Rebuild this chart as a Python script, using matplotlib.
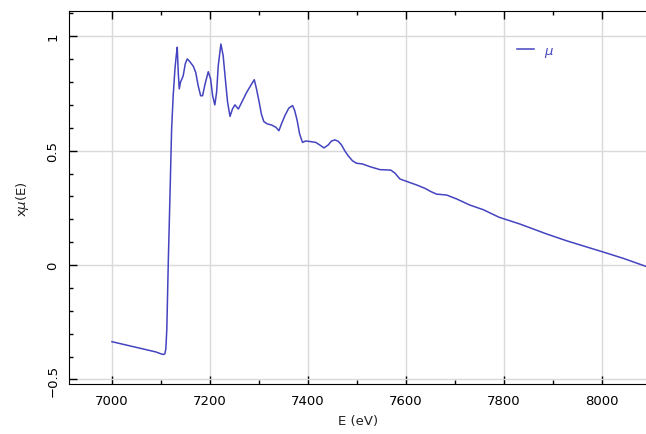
from matplotlib import pyplot as plt
from matplotlib.ticker import MultipleLocator, FuncFormatter

# energy (eV) and normalised absorption
energy = [7000, 7050, 7090, 7100, 7105, 7108, 7110, 7112, 7115, 7118.4,
          7121.8, 7125, 7128.6, 7131, 7133.3, 7135.4, 7137.4, 7140, 7142.8,
          7145.5, 7149.6, 7153.7, 7159, 7166, 7171, 7176, 7181, 7185, 7190,
          7196.6, 7201.4, 7205.5, 7210, 7213.6, 7217, 7222.4, 7227, 7232,
          7236, 7241, 7246, 7251, 7258, 7266.7, 7275, 7283, 7290.5, 7295,
          7300.7, 7305, 7310, 7317, 7326, 7334.7, 7340.8, 7346, 7353, 7361,
          7368.7, 7373, 7378, 7383, 7389, 7395, 7400.7, 7416, 7424, 7432.7,
          7441.5, 7448, 7455, 7461.8, 7468.5, 7475, 7482, 7490.8, 7499, 7511,
          7526.5, 7547, 7569, 7577.5, 7587.8, 7601, 7621.8, 7639, 7652,
          7662.6, 7683, 7703.4, 7730.6, 7757.8, 7790, 7833, 7887, 7928,
          8001, 8044, 8090]
mu = [-0.335, -0.36, -0.38, -0.388, -0.391, -0.388, -0.367, -0.28, 0.013,
      0.30, 0.595, 0.74, 0.857, 0.91, 0.952, 0.84, 0.77, 0.80, 0.813,
      0.828, 0.879, 0.901, 0.889, 0.869, 0.842, 0.784, 0.74, 0.74, 0.791,
      0.845, 0.813, 0.74, 0.70, 0.755, 0.872, 0.966, 0.915, 0.80,
      0.712, 0.65, 0.682, 0.70, 0.682, 0.719, 0.755, 0.784, 0.81, 0.77,
      0.71, 0.66, 0.627, 0.617, 0.612, 0.602, 0.587, 0.617, 0.653, 0.686,
      0.697, 0.675, 0.632, 0.573, 0.536, 0.542, 0.541, 0.536, 0.525, 0.512,
      0.525, 0.542, 0.547, 0.541, 0.525, 0.500, 0.478, 0.456, 0.445, 0.442,
      0.430, 0.417, 0.415, 0.402, 0.376, 0.366, 0.35, 0.335, 0.32,
      0.31, 0.306, 0.289, 0.262, 0.242, 0.209, 0.179, 0.136, 0.106,
      0.058, 0.029, -0.006]

plt.rcParams['font.family'] = 'DejaVu Sans'
plt.rcParams['font.size'] = 9.5

fig = plt.figure(figsize=(6.46, 4.35), dpi=100)
ax = fig.add_axes([0.1073, 0.1149, 0.8927, 0.8568])

ax.plot(energy, mu, color='#4444c0', lw=1.1, label=r'$\mu$')

ax.set_xlim(6913, 8090)
ax.set_ylim(-0.52, 1.109)

ax.xaxis.set_major_locator(MultipleLocator(200))
ax.xaxis.set_minor_locator(MultipleLocator(100))
ax.yaxis.set_major_locator(MultipleLocator(0.5))
ax.yaxis.set_minor_locator(MultipleLocator(0.1))
ax.yaxis.set_major_formatter(FuncFormatter(lambda v, p: ('%g' % v).replace('-', '\u2212')))

ax.grid(True, which='major', color='#d9d9d9', lw=1)
ax.set_axisbelow(True)
ax.tick_params(which='both', direction='in', top=True, right=False)
ax.tick_params(which='major', length=6, width=1)
ax.tick_params(which='minor', length=3, width=1)
ax.tick_params(axis='x', pad=7)
ax.tick_params(axis='y', pad=7)
for lab in ax.get_yticklabels():
    lab.set_rotation(90)
    lab.set_va('center')
ax.spines['right'].set_visible(False)

ax.set_xlabel('E (eV)', color='#222222', labelpad=5)
ax.set_ylabel(r'x$\mu$(E)', color='#222222', labelpad=11)

leg = ax.legend(loc='upper left', bbox_to_anchor=(0.755, 0.945),
                frameon=False, handlelength=1.3)
for t in leg.get_texts():
    t.set_color('#4444c0')

plt.savefig('out.png', dpi=100)
